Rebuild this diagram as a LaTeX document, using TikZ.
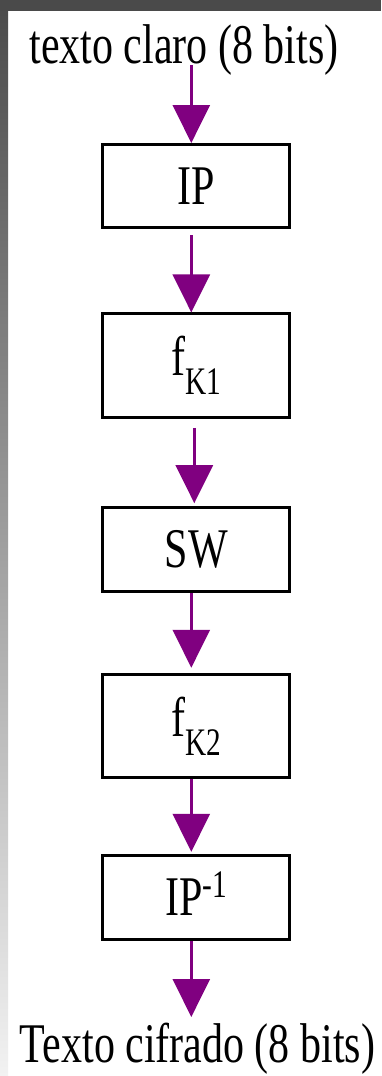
\documentclass[tikz,border=0pt]{standalone}
\usepackage{fontspec}
\setmainfont{Liberation Serif}
\usepackage{graphicx}
\usetikzlibrary{arrows.meta}
\definecolor{arrowpurple}{HTML}{800080}
\definecolor{framegray}{HTML}{4A4A4A}
\definecolor{framelight}{HTML}{F2F2F2}
\newcommand{\mainsz}{\fontsize{56}{60}\selectfont}
\newcommand{\subsz}{\fontsize{39}{42}\selectfont}
\newcommand{\narrowtext}[1]{\scalebox{0.75}[1]{#1}}
\begin{document}
\begin{tikzpicture}[x=1pt,y=-1pt,
  box/.style={draw=black,line width=3pt,minimum width=187pt,inner sep=0pt,font=\mainsz},
  plaintext/.style={inner sep=0pt,font=\mainsz},
  arr/.style={draw=arrowpurple,line width=2.7pt,-{Triangle[length=38pt,width=37pt]}}]
\useasboundingbox (0,0) rectangle (381,1076);
\fill[white] (0,0) rectangle (381,1076);
\shade[top color=framegray,bottom color=framelight] (0,0) rectangle (8,1076);
\fill[framegray] (0,0) rectangle (381,10.5);
\node[plaintext,anchor=base] (src) at (184,63) {\narrowtext{texto claro (8 bits)}};
\node[box,minimum height=83pt] (ip) at (196.3,186) {\narrowtext{IP}};
\node[box,minimum height=103.5pt] (fka) at (196.3,365.7) {\narrowtext{f\raisebox{-19pt}{\subsz K1}}};
\node[box,minimum height=84pt] (sw) at (196.3,549.7) {\narrowtext{SW}};
\node[box,minimum height=103.5pt] (fkb) at (196.3,726) {\narrowtext{f\raisebox{-19pt}{\subsz K2}}};
\node[box,minimum height=84pt] (ipinv) at (196.3,897.3) {\narrowtext{IP\smash{\raisebox{18pt}{\subsz -1}}}};
\node[plaintext,anchor=base] (dst) at (197.5,1062) {\narrowtext{Texto cifrado (8 bits)}};
\draw[arr] ([xshift=7.3pt,yshift=-2pt]src.base) -- ([xshift=-5pt]ip.north);
\draw[arr] ([xshift=-5pt,yshift=-6pt]ip.south) -- ([xshift=-5pt]fka.north);
\draw[arr] ([xshift=-2pt,yshift=-9pt]fka.south) -- ([xshift=-2pt,yshift=3pt]sw.north);
\draw[arr] ([xshift=-5pt]sw.south) -- ([xshift=-5pt,yshift=5pt]fkb.north);
\draw[arr] ([xshift=-5pt]fkb.south) -- ([xshift=-5pt,yshift=2pt]ipinv.north);
\draw[arr] ([xshift=-5pt]ipinv.south) -- ([xshift=-6.2pt,yshift=45pt]dst.base);
\end{tikzpicture}
\end{document}
